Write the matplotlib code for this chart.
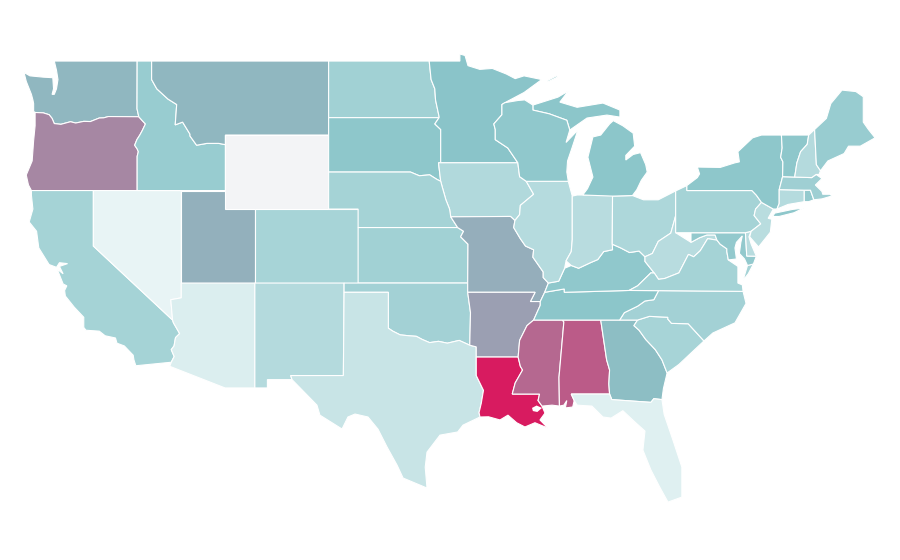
import matplotlib
matplotlib.use("Agg")
import matplotlib.pyplot as plt
from matplotlib.colors import LinearSegmentedColormap, Normalize

# shared borders, lon/lat
COLUMBIA = [(-116.92, 45.99), (-118.98, 46.0), (-119.3, 45.93), (-119.6, 45.92), (-120.2, 45.73), (-120.65, 45.74),
            (-121.2, 45.65), (-121.55, 45.72), (-122.2, 45.58), (-122.65, 45.62), (-122.8, 45.9), (-123.0, 46.1),
            (-123.4, 46.2), (-123.95, 46.22)]
SNAKE = [(-116.92, 45.99), (-116.65, 45.75), (-116.47, 45.6), (-116.68, 45.25), (-116.85, 45.0), (-117.05, 44.75),
         (-117.2, 44.45), (-117.03, 44.25), (-116.95, 44.1), (-117.03, 43.85), (-117.03, 42.0)]
BITTERROOT = [(-116.05, 48.0), (-115.7, 47.5), (-114.95, 46.95), (-114.35, 46.65), (-114.45, 45.55), (-113.95, 45.7),
              (-113.45, 45.05), (-113.45, 44.95), (-113.0, 44.45), (-112.3, 44.55), (-111.5, 44.55), (-111.05, 44.48)]
COLORADO_R = [(-114.63, 35.0), (-114.57, 34.85), (-114.15, 34.27), (-114.43, 34.05), (-114.53, 33.6), (-114.72, 33.4),
              (-114.52, 33.03), (-114.72, 32.72)]
RED_RIVER_N = [(-97.23, 49.0), (-97.1, 48.0), (-96.85, 47.5), (-96.8, 46.9), (-96.56, 46.0), (-96.56, 45.94)]
SD_MN = [(-96.56, 45.94), (-96.85, 45.6), (-96.45, 45.3), (-96.45, 43.5)]
SD_NE = [(-104.05, 43.0), (-98.5, 43.0), (-97.9, 42.8), (-97.2, 42.85), (-96.7, 42.6), (-96.45, 42.5)]
SD_IA = [(-96.45, 43.5), (-96.6, 43.5), (-96.45, 42.5)]
MO_RIVER_N = [(-96.45, 42.5), (-96.35, 42.2), (-96.1, 41.5), (-95.85, 41.0), (-95.77, 40.58)]
MO_RIVER_S = [(-95.3, 40.0), (-94.9, 39.8), (-95.1, 39.5), (-94.6, 39.1)]
MN_WI = [(-92.1, 46.75), (-92.3, 46.65), (-92.3, 46.1), (-92.85, 45.6), (-92.75, 45.3), (-92.75, 44.75),
         (-91.9, 44.3), (-91.22, 43.5)]
IA_WI = [(-91.22, 43.5), (-91.1, 42.75), (-90.65, 42.5)]
IA_IL = [(-90.65, 42.5), (-90.15, 41.8), (-91.05, 41.2), (-91.1, 40.7), (-91.42, 40.38)]
MO_IL = [(-91.42, 40.38), (-91.5, 40.0), (-91.05, 39.4), (-90.7, 39.0), (-90.15, 38.8), (-90.2, 38.4),
         (-89.5, 37.6), (-89.5, 37.3), (-89.15, 37.0)]
TN_AR = [(-89.4, 36.5), (-89.7, 36.0), (-89.7, 35.8), (-90.15, 35.0)]
AR_MS = [(-90.15, 35.0), (-90.6, 34.7), (-91.1, 33.9), (-91.2, 33.0)]
LA_MS = [(-91.2, 33.0), (-91.05, 32.5), (-90.9, 32.3), (-91.4, 31.6), (-91.6, 31.0), (-89.75, 31.0), (-89.85, 30.65),
         (-89.58, 30.35)]
RED_RIVER_S = [(-100.0, 34.56), (-99.7, 34.4), (-99.2, 34.2), (-98.6, 34.15), (-98.1, 34.12), (-97.7, 33.95), (-97.2, 33.78),
               (-96.6, 33.85), (-96.0, 33.75), (-95.2, 33.9), (-94.48, 33.64)]
SABINE = [(-94.04, 32.0), (-93.55, 31.2), (-93.7, 30.5), (-93.85, 30.0), (-93.79, 29.76)]
OHIO_IL = [(-89.15, 37.0), (-88.45, 37.1), (-88.05, 37.8)]
OHIO_IN = [(-87.6, 37.95), (-87.1, 37.8), (-86.3, 38.1), (-85.8, 38.27), (-85.4, 38.7), (-84.8, 38.8), (-84.82, 39.1)]
OHIO_OH = [(-84.82, 39.1), (-84.25, 38.9), (-83.65, 38.65), (-83.0, 38.73), (-82.6, 38.42)]
OHIO_WV = [(-82.6, 38.42), (-82.1, 38.6), (-81.7, 39.25), (-80.85, 39.7), (-80.52, 40.64)]
KY_WV = [(-82.6, 38.42), (-82.6, 38.17), (-81.97, 37.54)]
KY_VA = [(-81.97, 37.54), (-82.2, 37.55), (-83.1, 36.85), (-83.68, 36.6)]
VA_WV = [(-81.97, 37.54), (-81.68, 37.2), (-81.25, 37.25), (-80.3, 37.55), (-79.65, 38.55), (-79.3, 38.42),
         (-78.85, 38.75), (-78.35, 39.4), (-77.72, 39.32)]
MD_WV = [(-79.48, 39.72), (-79.48, 39.2), (-78.9, 39.45), (-78.4, 39.6), (-77.85, 39.6), (-77.72, 39.32)]
POTOMAC = [(-77.72, 39.32), (-77.5, 39.1), (-77.05, 38.85), (-77.05, 38.7), (-76.95, 38.25)]
TN_NC = [(-84.32, 35.0), (-84.0, 35.4), (-83.1, 35.75), (-82.6, 36.03), (-82.0, 36.1), (-81.68, 36.59)]
NC_SC = [(-83.1, 35.0), (-82.3, 35.2), (-81.05, 35.15), (-81.05, 35.05), (-80.8, 34.82), (-79.67, 34.8), (-78.6, 33.87)]
SAVANNAH = [(-83.1, 35.0), (-83.35, 34.7), (-83.0, 34.45), (-82.55, 33.95), (-81.9, 33.4), (-81.45, 32.85),
            (-81.1, 32.14)]
GA_AL = [(-85.6, 35.0), (-85.2, 32.85), (-85.0, 32.3), (-85.05, 31.55), (-85.0, 31.0)]
GA_FL = [(-85.0, 31.0), (-84.85, 30.7), (-82.2, 30.55), (-82.0, 30.75), (-81.45, 30.7)]
NY_PA_E = [(-75.35, 42.0), (-75.05, 41.75), (-74.7, 41.36)]
NJ_PA = [(-74.7, 41.36), (-75.1, 41.0), (-75.2, 40.65), (-74.75, 40.2), (-75.4, 39.8)]
NY_VT = [(-73.35, 45.0), (-73.3, 44.3), (-73.4, 43.8), (-73.25, 43.55), (-73.27, 42.75)]
VT_NH = [(-71.5, 45.0), (-71.6, 44.5), (-72.05, 44.1), (-72.3, 43.5), (-72.45, 42.73)]
NH_ME = [(-71.1, 45.3), (-70.98, 43.4), (-70.7, 43.07)]
WI_UP = [(-90.2, 46.62), (-90.2, 46.35), (-89.1, 46.15), (-87.9, 45.8), (-87.7, 45.27)]

WASHINGTON = [(-122.65, 49.0), (-117.03, 49.0), (-117.04, 46.42)] + COLUMBIA + [
    (-124.05, 46.28), (-124.05, 46.7), (-124.1, 46.9), (-124.2, 47.2), (-124.55, 47.9), (-124.7, 48.38), (-124.3, 48.2),
    (-123.4, 48.13), (-122.75, 48.1), (-122.7, 47.5), (-122.8, 47.2), (-122.65, 47.2), (-122.5, 47.5), (-122.4, 48.0),
    (-122.5, 48.5)]
OREGON = [(-124.2, 42.0), (-124.4, 42.3), (-124.55, 42.84), (-124.15, 43.6), (-124.05, 44.7), (-123.95, 45.5)] + COLUMBIA[::-1] + SNAKE[1:]
CALIFORNIA = [(-124.2, 42.0), (-120.0, 42.0), (-120.0, 39.0)] + COLORADO_R + [
    (-117.12, 32.53), (-117.25, 32.85), (-117.3, 33.1), (-117.9, 33.6), (-118.4, 33.75), (-118.5, 34.03), (-119.2, 34.15),
    (-119.6, 34.4), (-120.5, 34.45), (-120.65, 34.6), (-120.65, 35.15), (-121.3, 35.7), (-121.9, 36.3), (-121.95, 36.6),
    (-121.8, 36.85), (-122.05, 36.95), (-122.45, 37.75), (-122.05, 37.5), (-122.3, 37.9), (-121.75, 38.05),
    (-122.3, 38.1), (-122.5, 37.85), (-123.0, 38.0), (-123.7, 38.9), (-123.85, 39.8), (-124.35, 40.3), (-124.1, 41.0), (-124.2, 41.75)]
NEVADA = [(-120.0, 42.0), (-114.04, 42.0), (-114.04, 36.2), (-114.75, 36.1), (-114.63, 35.0), (-120.0, 39.0)]
IDAHO = [(-117.03, 49.0), (-116.05, 49.0)] + BITTERROOT + [(-111.05, 42.0)] + SNAKE[::-1] + [(-117.04, 46.42)]
MONTANA = [(-116.05, 49.0), (-104.05, 49.0), (-104.05, 45.0), (-111.05, 45.0)] + BITTERROOT[::-1]
WYOMING = [(-111.05, 45.0), (-104.05, 45.0), (-104.05, 41.0), (-111.05, 41.0)]
UTAH = [(-114.04, 42.0), (-111.05, 42.0), (-111.05, 41.0), (-109.05, 41.0), (-109.05, 37.0), (-114.04, 37.0)]
COLORADO = [(-109.05, 41.0), (-102.05, 41.0), (-102.05, 37.0), (-109.05, 37.0)]
ARIZONA = [(-114.04, 37.0), (-109.05, 37.0), (-109.05, 31.33), (-111.07, 31.33), (-114.82, 32.5)] + COLORADO_R[::-1] + [
    (-114.75, 36.1), (-114.04, 36.2)]
NEW_MEXICO = [(-109.05, 37.0), (-103.0, 37.0), (-103.05, 32.0), (-106.62, 32.0), (-106.53, 31.78), (-108.2, 31.78),
              (-108.2, 31.33), (-109.05, 31.33)]
NORTH_DAKOTA = [(-104.05, 49.0)] + RED_RIVER_N + [(-104.05, 45.94)]
SOUTH_DAKOTA = [(-104.05, 45.94)] + SD_MN + SD_IA[1:] + SD_NE[::-1][1:]
MINNESOTA = RED_RIVER_N + SD_MN[1:] + MN_WI[::-1] + [
    (-90.8, 47.3), (-89.6, 48.0), (-90.8, 48.2), (-91.4, 48.05), (-92.0, 48.3), (-92.95, 48.6), (-93.8, 48.55),
    (-94.6, 48.75), (-94.8, 49.3), (-95.15, 49.38), (-95.15, 49.0)]
IOWA = SD_IA + MO_RIVER_N[1:] + [(-91.72, 40.6)] + IA_IL[::-1] + IA_WI[::-1]
NEBRASKA = SD_NE + MO_RIVER_N[1:] + [(-95.3, 40.0), (-102.05, 40.0), (-102.05, 41.0), (-104.05, 41.0)]
KANSAS = [(-102.05, 40.0)] + MO_RIVER_S + [(-94.62, 37.0), (-102.05, 37.0)]
OKLAHOMA = [(-103.0, 37.0), (-94.62, 37.0), (-94.62, 36.5), (-94.43, 35.4)] + RED_RIVER_S[::-1] + [(-100.0, 36.5), (-103.0, 36.5)]
TEXAS = [(-103.0, 36.5), (-100.0, 36.5)] + RED_RIVER_S + [(-94.04, 33.55), (-94.04, 33.0)] + SABINE + [
    (-94.94, 29.32), (-95.3, 28.95), (-96.5, 28.78), (-97.38, 27.86), (-97.5, 27.05), (-97.38, 25.92), (-99.0, 26.46),
    (-99.41, 27.16), (-100.09, 28.14), (-100.7, 29.1), (-101.38, 29.76), (-102.26, 29.92), (-102.74, 29.76), (-103.14, 29.11),
    (-104.64, 29.86), (-104.84, 30.4), (-106.53, 31.78), (-106.62, 32.0), (-103.05, 32.0)]
MISSOURI = MO_RIVER_N[-1:] + [(-91.72, 40.6)] + MO_IL + [(-89.4, 36.5), (-89.7, 36.0), (-90.37, 36.0), (-90.05, 36.5),
                                                         (-94.62, 36.5), (-94.62, 37.0)] + MO_RIVER_S[::-1]
ARKANSAS = [(-94.62, 36.5), (-90.05, 36.5), (-90.37, 36.0), (-89.7, 36.0), (-89.7, 35.8)] + AR_MS + [
    (-94.04, 33.0), (-94.04, 33.55), (-94.48, 33.64), (-94.43, 35.4)]
LOUISIANA = [(-94.04, 33.0)] + LA_MS + [
    (-89.38, 29.97), (-89.72, 29.6), (-89.18, 29.16), (-90.06, 29.45), (-90.74, 29.22), (-91.3, 29.45), (-91.89, 29.86),
    (-92.43, 29.6), (-93.2, 29.77)] + SABINE[::-1]
MISSISSIPPI = AR_MS[:] + LA_MS[1:] + [(-88.9, 30.4), (-88.4, 30.35), (-88.43, 31.9), (-88.1, 34.9), (-88.2, 35.0)]
ALABAMA = [(-88.2, 35.0)] + GA_AL + [(-87.6, 31.0), (-87.4, 30.65), (-87.5, 30.3), (-88.0, 30.25), (-87.9, 30.65),
                                     (-88.1, 30.4), (-88.4, 30.35), (-88.43, 31.9), (-88.1, 34.9)]
GEORGIA = [(-85.6, 35.0)] + SAVANNAH + [(-81.35, 31.3)] + GA_FL[::-1] + GA_AL[::-1][1:]
FLORIDA = [(-87.6, 31.0)] + GA_FL + [
    (-81.3, 29.9), (-80.7, 28.5), (-80.1, 27.05), (-80.1, 25.43), (-81.04, 25.16), (-81.6, 25.97), (-82.2, 26.9),
    (-82.74, 27.97), (-82.6, 29.0), (-83.3, 29.5), (-84.1, 30.1), (-84.9, 29.7), (-85.45, 29.76), (-86.2, 30.35),
    (-87.2, 30.4), (-87.4, 30.65)]
SOUTH_CAROLINA = NC_SC + [(-79.5, 33.2), (-80.3, 32.6)] + SAVANNAH[::-1]
NORTH_CAROLINA = TN_NC + [(-75.95, 36.55), (-75.75, 35.9), (-76.5, 34.85), (-78.0, 34.3)] + NC_SC[::-1]
TENNESSEE = TN_NC[::-1] + TN_AR[::-1] + [(-88.07, 36.68), (-88.07, 36.5), (-83.68, 36.6)]
KENTUCKY = [(-89.4, 36.5), (-88.07, 36.68), (-88.07, 36.5)] + KY_VA[::-1] + KY_WV[::-1] + OHIO_OH[::-1] + OHIO_IN[::-1] + OHIO_IL[::-1]
ILLINOIS = [(-90.65, 42.5), (-87.8, 42.5), (-87.53, 41.7), (-87.53, 39.35), (-87.6, 38.7), (-87.95, 38.2), (-88.05, 37.8)] + OHIO_IL[::-1][1:] + MO_IL[::-1] + IA_IL[::-1][1:]
INDIANA = [(-87.53, 41.7), (-87.2, 41.76), (-84.8, 41.76)] + OHIO_IN[::-1] + [(-87.95, 38.2), (-87.6, 38.7), (-87.53, 39.35)]
OHIO = [(-84.8, 41.7), (-83.45, 41.73), (-82.7, 41.5), (-81.7, 41.5), (-80.52, 41.98)] + OHIO_WV[::-1] + OHIO_OH[::-1]
WEST_VIRGINIA = OHIO_WV + [(-80.52, 39.72)] + MD_WV[1:] + VA_WV[::-1][1:] + KY_WV[::-1]
VIRGINIA = [(-83.68, 36.6), (-81.68, 36.59), (-75.95, 36.55), (-76.0, 36.9), (-76.3, 37.0), (-76.3, 37.9)] + POTOMAC[::-1] + VA_WV[::-1] + KY_VA[1:]
VA_SHORE = [(-75.95, 37.15), (-75.65, 37.95), (-75.25, 38.03), (-75.6, 37.5)]
MARYLAND = MD_WV[:1] + [(-75.79, 39.72), (-75.7, 38.46), (-75.05, 38.45), (-75.25, 38.03), (-75.65, 37.95), (-75.85, 38.3), (-76.2, 38.6),
                        (-76.1, 39.2), (-76.0, 39.55), (-76.4, 39.2), (-76.5, 38.9), (-76.4, 38.3)] + POTOMAC[::-1] + MD_WV[::-1][1:]
DELAWARE = [(-75.79, 39.72), (-75.4, 39.8), (-75.55, 39.5), (-75.4, 39.1), (-75.05, 38.45), (-75.7, 38.46)]
PENNSYLVANIA = [(-80.52, 41.98), (-79.76, 42.27), (-79.76, 42.0)] + NY_PA_E + NJ_PA[1:] + [(-75.79, 39.72), (-80.52, 39.72)]
NEW_JERSEY = [(-74.7, 41.36), (-73.9, 41.0), (-74.25, 40.5), (-74.0, 40.45), (-74.1, 39.75), (-74.9, 38.95), (-75.5, 39.5)] + NJ_PA[::-1][:-1]
NEW_YORK = [(-79.76, 42.27), (-79.05, 42.7), (-78.9, 42.9), (-79.05, 43.27), (-77.5, 43.25), (-76.5, 43.5), (-76.2, 43.55),
            (-76.3, 44.1), (-75.3, 44.85), (-74.7, 45.0)] + NY_VT + [(-73.5, 42.05), (-73.5, 41.3), (-73.65, 41.0), (-73.9, 41.0)] + NY_PA_E[::-1] + [(-79.76, 42.0)]
LONG_ISLAND = [(-73.95, 40.6), (-73.8, 40.78), (-72.6, 40.98), (-71.85, 41.05), (-72.5, 40.8), (-73.5, 40.6)]
CONNECTICUT = [(-73.65, 41.0), (-73.5, 41.3), (-73.5, 42.05), (-71.8, 42.02), (-71.8, 41.4), (-72.9, 41.25)]
RHODE_ISLAND = [(-71.8, 42.02), (-71.38, 42.02), (-71.15, 41.5), (-71.5, 41.4), (-71.8, 41.4)]
MASSACHUSETTS = [(-73.5, 42.05), (-73.27, 42.75), (-72.45, 42.73), (-71.3, 42.7), (-71.0, 42.87), (-70.6, 42.65), (-71.05, 42.3), (-70.6, 41.95),
                 (-70.55, 41.8), (-70.0, 41.8), (-70.2, 42.07), (-69.95, 41.7), (-70.6, 41.55), (-71.15, 41.5), (-71.38, 42.02), (-71.8, 42.02)]
VERMONT = NY_VT[:1] + [(-71.5, 45.0)] + VT_NH[1:] + NY_VT[::-1][:-1]
NEW_HAMPSHIRE = [(-71.5, 45.0)] + NH_ME + [(-70.8, 42.87), (-71.0, 42.87), (-71.3, 42.7)] + VT_NH[::-1][:-1]
MAINE = NH_ME[::-1] + [(-70.3, 45.9), (-70.0, 46.7), (-69.24, 47.43), (-68.3, 47.35), (-67.8, 47.07), (-67.8, 45.7), (-67.45, 45.3),
                       (-67.0, 44.85), (-68.0, 44.4), (-68.8, 44.4), (-69.1, 44.0), (-70.2, 43.6)]
MICHIGAN = [(-86.82, 41.76), (-86.5, 42.1), (-86.13, 42.73), (-86.47, 43.8), (-86.13, 44.9), (-85.6, 45.0), (-85.0, 45.6), (-84.75, 45.78), (-84.1, 45.5),
            (-83.4, 45.1), (-83.3, 44.4), (-83.9, 43.9), (-83.9, 43.65), (-83.4, 43.95), (-82.9, 44.05), (-82.55, 43.4), (-82.45, 43.0),
            (-82.85, 42.55), (-83.15, 42.05), (-83.45, 41.73), (-84.8, 41.7)]
MICHIGAN_UP = WI_UP[1:] + [(-86.53, 45.92), (-85.18, 46.08), (-84.3, 45.97), (-84.3, 46.35), (-85.45, 46.73), (-87.2, 46.5),
                           (-88.37, 46.78), (-87.8, 47.38), (-88.5, 47.05), (-90.2, 46.62)]
ISLE_ROYALE = [(-89.2, 47.87), (-88.5, 48.15), (-88.6, 48.2), (-89.2, 47.95)]
WISCONSIN = MN_WI[:1] + [(-91.2, 46.87), (-90.75, 46.9)] + WI_UP + [(-87.95, 44.6), (-87.15, 45.27), (-87.55, 44.3), (-87.85, 43.6), (-87.9, 43.0), (-87.8, 42.5)] + IA_WI[::-1] + MN_WI[::-1][1:]
LAKE_PONTCHARTRAIN = [(-90.26, 30.25), (-89.95, 30.38), (-89.58, 30.25), (-89.9, 30.03), (-90.2, 30.08)]

STATES = {
    "WA": [WASHINGTON], "OR": [OREGON], "CA": [CALIFORNIA], "NV": [NEVADA], "ID": [IDAHO], "MT": [MONTANA], "WY": [WYOMING],
    "UT": [UTAH], "CO": [COLORADO], "AZ": [ARIZONA], "NM": [NEW_MEXICO], "ND": [NORTH_DAKOTA], "SD": [SOUTH_DAKOTA],
    "MN": [MINNESOTA], "IA": [IOWA], "NE": [NEBRASKA], "KS": [KANSAS], "OK": [OKLAHOMA], "TX": [TEXAS], "MO": [MISSOURI],
    "AR": [ARKANSAS], "LA": [LOUISIANA], "MS": [MISSISSIPPI], "AL": [ALABAMA], "GA": [GEORGIA], "FL": [FLORIDA],
    "SC": [SOUTH_CAROLINA], "NC": [NORTH_CAROLINA], "TN": [TENNESSEE], "KY": [KENTUCKY], "IL": [ILLINOIS], "IN": [INDIANA],
    "OH": [OHIO], "WV": [WEST_VIRGINIA], "VA": [VIRGINIA, VA_SHORE], "MD": [MARYLAND], "DE": [DELAWARE], "PA": [PENNSYLVANIA],
    "NJ": [NEW_JERSEY], "NY": [NEW_YORK, LONG_ISLAND], "CT": [CONNECTICUT], "RI": [RHODE_ISLAND], "MA": [MASSACHUSETTS],
    "VT": [VERMONT], "NH": [NEW_HAMPSHIRE], "ME": [MAINE], "MI": [MICHIGAN, MICHIGAN_UP, ISLE_ROYALE], "WI": [WISCONSIN],
}

state_codes = ["WA", "OR", "CA", "NV", "ID", "MT", "WY", "UT", "CO", "AZ", "NM", "ND", "SD", "MN", "IA", "NE", "KS", "OK", "TX", "MO",
               "AR", "LA", "MS", "AL", "GA", "FL", "SC", "NC", "TN", "KY", "IL", "IN", "OH", "WV", "VA", "MD", "DE", "PA", "NJ", "NY",
               "CT", "RI", "MA", "VT", "NH", "ME", "MI", "WI"]
state_values = [54, 68, 37, 5, 43, 54, 0, 56, 36, 11, 30, 39, 48, 50, 31, 37, 39, 38, 20, 57,
                61, 100, 77, 81, 52, 9, 36, 38, 49, 47, 29, 28, 33, 28, 37, 46, 28, 37, 27, 48,
                29, 45, 40, 48, 30, 43, 49, 47]

cmap = LinearSegmentedColormap.from_list("rate", [(0, "#f3f4f6"), (0.05, "#e7f4f5"), (0.5, "#8ac5c9"), (1, "#d81b60")])
norm = Normalize(0, 100)

fig = plt.figure(figsize=(9, 5.6), dpi=100)
ax = fig.add_axes([0, 0, 1, 1])
for code, value in zip(state_codes, state_values):
    for part in STATES[code]:
        lons, lats = zip(*part)
        ax.fill(lons, lats, facecolor=cmap(norm(value)), edgecolor="white", linewidth=0.8)
lons, lats = zip(*LAKE_PONTCHARTRAIN)
ax.fill(lons, lats, facecolor="white", edgecolor="none")

ax.set_xlim(-126.33, -65.31)
ax.set_ylim(22.03, 52.30)
ax.axis("off")
fig.savefig("out.png", dpi=100, facecolor="white")
